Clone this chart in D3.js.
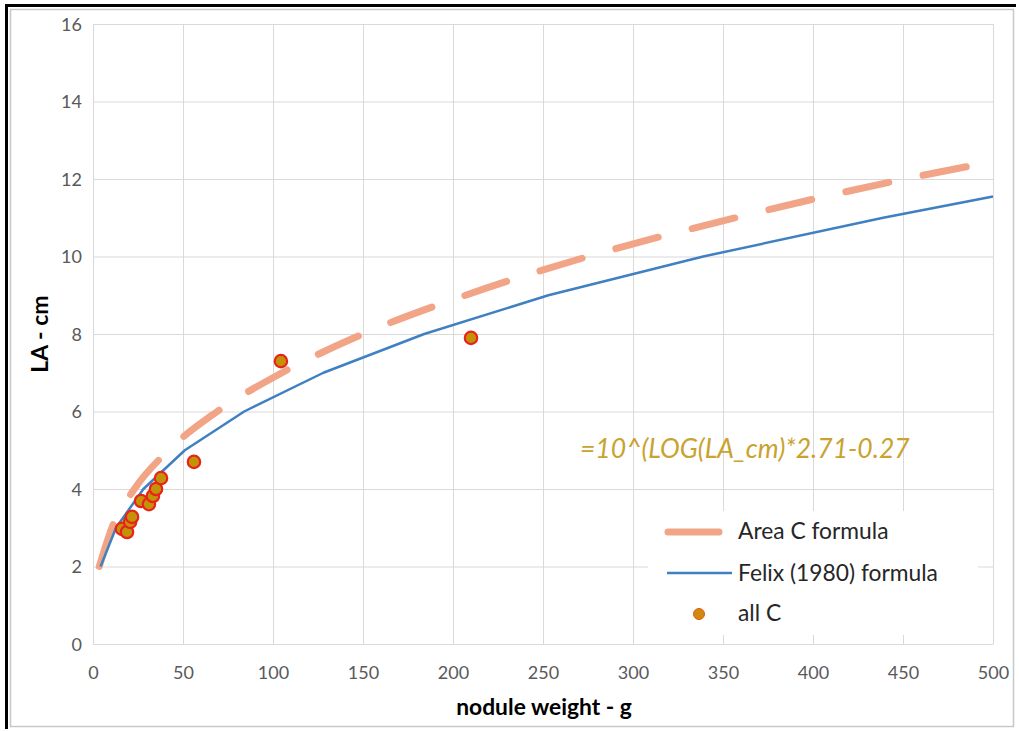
<!DOCTYPE html>
<html><head><meta charset="utf-8">
<script src="https://cdn.jsdelivr.net/npm/d3@7"></script>
<style>html,body{margin:0;padding:0;background:#fff}svg{display:block}</style>
</head><body>
<svg id="c" width="1019" height="731"></svg>
<script>
// ---- data ----
const xTicks = [0,50,100,150,200,250,300,350,400,450,500];
const yTicks = [0,2,4,6,8,10,12,14,16];
// Area C formula curve (weight g, LA cm)
const areaW  = [3.5, 10.5, 23, 42, 69, 105, 150, 207, 275, 357, 451, 490];
const areaLA = [2, 3, 4, 5, 6, 7, 8, 9, 10, 11, 12, 12.36];
// Felix (1980) formula (weight g, LA cm)
const felixW  = [4.2, 12.8, 28, 51, 84, 128, 184, 253, 339, 439, 500];
const felixLA = [2, 3, 4, 5, 6, 7, 8, 9, 10, 11, 11.55];
// all C observations
const obsW  = [16.1, 18.9, 20.6, 21.7, 26.7, 31.1, 33.3, 35.0, 37.8, 56.1, 104.4, 210];
const obsLA = [2.97, 2.89, 3.15, 3.28, 3.69, 3.61, 3.82, 4.00, 4.28, 4.70, 7.30, 7.90];
const legendLabels = ["Area C formula", "Felix (1980) formula", "all C"];
const formulaText = "=10^(LOG(LA_cm)*2.71-0.27";

const svg = d3.select("#c");
const F = "Lato, 'Open Sans', sans-serif";

// frame
svg.append("rect").attr("x",10.5).attr("y",9.5).attr("width",1003).attr("height",717)
  .attr("fill","none").attr("stroke","#c8c8c8").attr("stroke-width",1.5);
svg.append("path").attr("d","M6.5,729 V5.5 H1016").attr("fill","none")
  .attr("stroke","#000").attr("stroke-width",3);

const x = d3.scaleLinear().domain([0,500]).range([93,993]);
const y = d3.scaleLinear().domain([0,16]).range([644,24]);

// grid
const g = svg.append("g");
g.selectAll(".gx").data(xTicks).join("line")
  .attr("x1",d=>x(d)+0.5).attr("x2",d=>x(d)+0.5).attr("y1",y(16)).attr("y2",y(0))
  .attr("stroke","#d9d9d9").attr("stroke-width",1);
g.selectAll(".gy").data(yTicks).join("line")
  .attr("y1",d=>y(d)+0.5).attr("y2",d=>y(d)+0.5).attr("x1",x(0)).attr("x2",x(500))
  .attr("stroke","#d9d9d9").attr("stroke-width",1);

// axes (labels only)
const xa = svg.append("g").attr("transform",`translate(0,${y(0)})`)
  .call(d3.axisBottom(x).tickValues(xTicks).tickSize(0).tickPadding(22));
const ya = svg.append("g").attr("transform",`translate(${x(0)},0)`)
  .call(d3.axisLeft(y).tickValues(yTicks).tickSize(0).tickPadding(11));
[xa,ya].forEach(a=>{
  a.select(".domain").attr("stroke","#d9d9d9");
  a.selectAll("text").attr("font-family",F).attr("font-size",18).attr("fill","#595959");
});
ya.selectAll("text").attr("dy","0.35em");

// axis titles
svg.append("text").attr("x",544).attr("y",715).attr("text-anchor","middle")
  .attr("font-family",F).attr("font-weight","bold").attr("font-size",22.8).attr("fill","#000")
  .text("nodule weight - g");
svg.append("text").attr("transform","translate(48,334) rotate(-90)").attr("text-anchor","middle")
  .attr("font-family",F).attr("font-weight","bold").attr("font-size",23).attr("fill","#000")
  .text("LA - cm");

// lines
const areaData = areaW.map((w,i)=>[w,areaLA[i]]);
const felixData = felixW.map((w,i)=>[w,felixLA[i]]);
const lineCurve = d3.line().x(d=>x(d[0])).y(d=>y(d[1])).curve(d3.curveMonotoneX);
const lineLin = d3.line().x(d=>x(d[0])).y(d=>y(d[1]));

svg.append("path").attr("d",lineCurve(areaData)).attr("fill","none")
  .attr("stroke","#f2a586").attr("stroke-width",7).attr("stroke-linecap","round")
  .attr("stroke-dasharray","44,35");
svg.append("path").attr("d",lineLin(felixData)).attr("fill","none")
  .attr("stroke","#3f80c2").attr("stroke-width",2.5).attr("stroke-linejoin","round");

// points
svg.selectAll(".pt").data(obsW.map((w,i)=>[w,obsLA[i]])).join("circle")
  .attr("cx",d=>x(d[0])).attr("cy",d=>y(d[1])).attr("r",6.2)
  .attr("fill","#c39207").attr("stroke","#e8231b").attr("stroke-width",2.2);

// formula text
svg.append("text").attr("x",580).attr("y",458).attr("font-family",F).attr("font-style","italic")
  .attr("font-size",26.5).attr("fill","#c9a230").text(formulaText);

// legend
const lg = svg.append("g");
lg.append("rect").attr("x",648).attr("y",511).attr("width",330).attr("height",124).attr("fill","#fff");
lg.append("line").attr("x1",668).attr("x2",719).attr("y1",532).attr("y2",532)
  .attr("stroke","#f2a586").attr("stroke-width",7).attr("stroke-linecap","round");
lg.append("line").attr("x1",667).attr("x2",732).attr("y1",573).attr("y2",573)
  .attr("stroke","#3f80c2").attr("stroke-width",2.5);
lg.append("circle").attr("cx",699).attr("cy",614).attr("r",5.5).attr("fill","#d18a0c").attr("stroke","#e25a12").attr("stroke-width",1);
lg.selectAll(".lt").data(legendLabels).join("text")
  .attr("x",738).attr("y",(d,i)=>[531,573,613][i]).attr("dy","0.35em")
  .attr("font-family",F).attr("font-size",22.8).attr("fill","#262626").text(d=>d);
</script>
</body></html>
